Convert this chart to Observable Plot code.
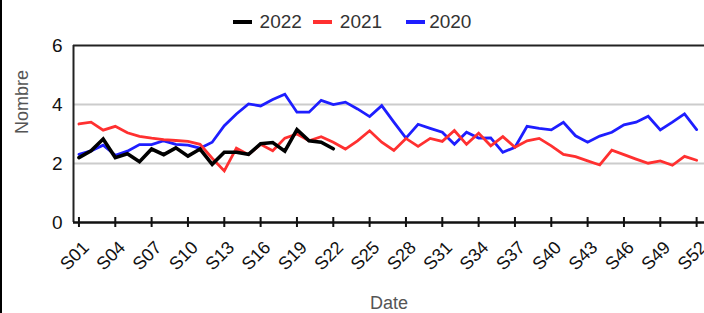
<!DOCTYPE html>
<html>
<head>
<meta charset="utf-8">
<script src="https://cdn.jsdelivr.net/npm/d3@7"></script>
<script src="https://cdn.jsdelivr.net/npm/@observablehq/plot@0.6"></script>
<style>
  html, body { margin: 0; padding: 0; background: #fff; }
  body { width: 704px; height: 313px; overflow: hidden; position: relative; font-family: "Liberation Sans", Arial, sans-serif; }
  #edge { position: absolute; left: 0; top: 0; width: 2px; height: 313px; background: #000; }
  #legend { height: 32px; display: flex; justify-content: center; align-items: center; padding-top: 12px; box-sizing: border-box; font-size: 19px; color: #333; }
  .item { display: flex; align-items: center; }
  .sw { width: 19px; height: 4px; margin-right: 8px; }
  .item + .item { margin-left: 11px; }
  .item.last { margin-left: 24px; }
  .item.last .sw { margin-right: 4px; }
  svg { display: block; }
</style>
</head>
<body>
<div id="edge"></div>
<div id="legend"></div>
<div id="chart"></div>
<script>
// ---- data ----
const weekNumbers = d3.range(1, 53);
const weekLabels = weekNumbers.map(w => "S" + String(w).padStart(2, "0"));
const tickWeeks = [1, 4, 7, 10, 13, 16, 19, 22, 25, 28, 31, 34, 37, 40, 43, 46, 49, 52];
const yTicks = [0, 2, 4, 6];
const gridValues = [2, 4];

const years = ["2022", "2021", "2020"];
const yearColors = ["#000000", "#ff3030", "#1e1eff"];
const yearWidths = [3.6, 2.8, 2.8];

const values2020 = [2.31, 2.43, 2.62, 2.28, 2.42, 2.64, 2.64, 2.77, 2.65, 2.62,
                    2.52, 2.72, 3.28, 3.68, 4.02, 3.95, 4.17, 4.35, 3.74, 3.74,
                    4.14, 4.00, 4.08, 3.85, 3.59, 3.96, 3.40, 2.86, 3.33, 3.19,
                    3.06, 2.65, 3.06, 2.86, 2.87, 2.38, 2.55, 3.26, 3.19, 3.14,
                    3.40, 2.94, 2.72, 2.93, 3.06, 3.31, 3.40, 3.60, 3.14, 3.40,
                    3.68, 3.15];
const values2021 = [3.34, 3.40, 3.13, 3.26, 3.04, 2.92, 2.86, 2.81, 2.78, 2.75,
                    2.65, 2.18, 1.75, 2.52, 2.30, 2.65, 2.43, 2.86, 3.00, 2.77,
                    2.91, 2.72, 2.49, 2.77, 3.11, 2.72, 2.44, 2.85, 2.58, 2.85,
                    2.75, 3.12, 2.65, 3.03, 2.60, 2.91, 2.55, 2.77, 2.85, 2.60,
                    2.31, 2.23, 2.09, 1.95, 2.45, 2.30, 2.15, 2.01, 2.09, 1.94,
                    2.24, 2.11];
const values2022 = [2.20, 2.43, 2.83, 2.20, 2.33, 2.06, 2.49, 2.30, 2.53, 2.25,
                    2.49, 1.97, 2.38, 2.38, 2.31, 2.67, 2.71, 2.42, 3.15, 2.77,
                    2.72, 2.50];

const xDomain = [0.55, 52.65];

// ---- legend ----
const legend = document.getElementById("legend");
years.forEach((y, i) => {
  const item = document.createElement("div");
  item.className = "item" + (i === years.length - 1 ? " last" : "");
  const sw = document.createElement("div");
  sw.className = "sw";
  sw.style.background = yearColors[i];
  const tx = document.createElement("span");
  tx.textContent = y;
  item.appendChild(sw); item.appendChild(tx);
  legend.appendChild(item);
});

// ---- tables ----
const toRows = (vals, year) => vals.map((v, i) => ({week: weekNumbers[i], value: v, year}));
const rows = {"2020": toRows(values2020, "2020"), "2021": toRows(values2021, "2021"), "2022": toRows(values2022, "2022")};
const drawOrder = ["2020", "2021", "2022"];

const chart = Plot.plot({
  width: 704,
  height: 281,
  marginLeft: 73,
  marginRight: 0,
  marginTop: 13,
  marginBottom: 91,
  style: {fontFamily: "'Liberation Sans', Arial, sans-serif", background: "#fff", color: "#222", overflow: "visible"},
  x: {domain: xDomain, axis: null},
  y: {domain: [0, 6], axis: null},
  marks: [
    Plot.ruleY(gridValues, {stroke: "#cccccc", strokeWidth: 2}),
    Plot.ruleY([6], {stroke: "#222", strokeWidth: 2}),
    Plot.ruleX([xDomain[0]], {stroke: "#222", strokeWidth: 2}),
    Plot.ruleY([0], {stroke: "#111", strokeWidth: 2.5}),
    Plot.ruleX(tickWeeks, {y1: 0, y2: 0, insetTop: -5, insetBottom: -5, stroke: "#111", strokeWidth: 2}),
    Plot.text(yTicks, {x: xDomain[0], y: d => d, text: d => String(d), textAnchor: "end", dx: -11, fontSize: 19, fill: "#111"}),
    Plot.text(tickWeeks, {x: d => d, y: 0, text: d => weekLabels[d - 1], rotate: -45, textAnchor: "end", dx: 7, dy: 22, fontSize: 18, fill: "#111"}),
    ...drawOrder.map(yr => {
      const i = years.indexOf(yr);
      return Plot.line(rows[yr], {x: "week", y: "value", stroke: yearColors[i], strokeWidth: yearWidths[i], strokeLinejoin: "miter", strokeMiterlimit: 4});
    }),
    Plot.text(["Date"], {frameAnchor: "bottom", text: d => d, dy: 86, fontSize: 18, fill: "#555"}),
    Plot.text(["Nombre"], {frameAnchor: "left", text: d => d, rotate: -90, dx: -51, fontSize: 18, fill: "#555"})
  ]
});
document.getElementById("chart").appendChild(chart);
</script>
</body>
</html>
